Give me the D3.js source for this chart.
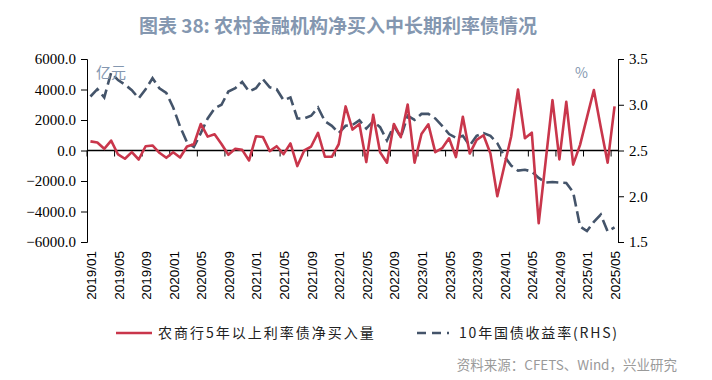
<!DOCTYPE html>
<html>
<head>
<meta charset="utf-8">
<script src="https://cdn.jsdelivr.net/npm/d3@7"></script>
<style>
  body { margin: 0; background: #fff; }
  svg { display: block; }
</style>
</head>
<body>
<svg id="chart"></svg>
<script>
// monthly categories 2019/01 .. 2025/05
var months = [];
for (var y = 2019; y <= 2025; y++) {
  for (var m = 1; m <= 12; m++) {
    if (y === 2025 && m > 5) break;
    months.push(y + "/" + (m < 10 ? "0" + m : m));
  }
}

var tickLabels = ["2019/01","2019/05","2019/09","2020/01","2020/05","2020/09","2021/01","2021/05","2021/09",
  "2022/01","2022/05","2022/09","2023/01","2023/05","2023/09","2024/01","2024/05","2024/09","2025/01","2025/05"];

// 农商行5年以上利率债净买入量 (亿元)
var netBuy = [600, 520, 110, 650, -260, -540, -110, -590, 280, 330,
  -150, -480, -110, -460, 260, 410, 1740, 910, 1060, 430,
  -280, 110, 40, -650, 930, 890, -40, 280, -240, 460,
  -1020, 0, 260, 1150, -410, -410, 410, 2890, 1370, 1740,
  -760, 2340, -110, -800, 1740, 870, 3020, -800, 1085, 1715,
  -110, 150, 800, -430, 2210, -200, 700, 1000, -200, -3000,
  -1050, 900, 4000, 800, 1170, -4770, -750, 3300, -580, 3190,
  -930, 370, 2170, 3970, 1520, -800, 2890];

// 10年国债收益率 (%)
var yield10 = [3.09, 3.17, 3.08, 3.35, 3.27, 3.22, 3.16, 3.07, 3.17, 3.29,
  3.18, 3.13, 2.97, 2.76, 2.59, 2.54, 2.69, 2.85, 2.96, 3.0,
  3.145, 3.18, 3.25, 3.145, 3.18, 3.28, 3.19, 3.17, 3.05, 3.08,
  2.85, 2.85, 2.88, 2.97, 2.82, 2.77, 2.69, 2.77, 2.78, 2.83,
  2.74, 2.82, 2.755, 2.61, 2.77, 2.645, 2.88, 2.835, 2.9, 2.9,
  2.85, 2.77, 2.68, 2.64, 2.66, 2.555, 2.66, 2.69, 2.66, 2.58,
  2.44, 2.335, 2.28, 2.29, 2.27, 2.20, 2.15, 2.155, 2.15, 2.145,
  2.045, 1.67, 1.62, 1.72, 1.80, 1.615, 1.66];

var leftTicks = [-6000, -4000, -2000, 0, 2000, 4000, 6000];
var rightTicks = [1.5, 2.0, 2.5, 3.0, 3.5];

var W = 712, H = 380;
var red = "#C9364B", blue = "#44546A";

var svg = d3.select("#chart").attr("width", W).attr("height", H);
svg.append("rect").attr("width", W).attr("height", H).attr("fill", "#fff");

var x = d3.scaleBand().domain(months).range([87, 618]).padding(0);
var yL = d3.scaleLinear().domain([-6000, 6000]).range([242, 59]);
var yR = d3.scaleLinear().domain([1.5, 3.5]).range([242, 59]);
var cx = function(i) { return x(months[i]) + x.bandwidth() / 2; };

// title
svg.append("text")
  .attr("x", 338).attr("y", 33)
  .attr("text-anchor", "middle")
  .attr("font-family", "'Noto Sans CJK SC', 'Noto Sans', sans-serif")
  .attr("font-weight", "bold")
  .attr("font-size", 19)
  .attr("fill", "#8497B0")
  .text("图表 38: 农村金融机构净买入中长期利率债情况");

// left axis
var axL = svg.append("g").attr("transform", "translate(87,0)")
  .call(d3.axisLeft(yL).tickValues(leftTicks).tickSize(6).tickFormat(d3.format(".1f")));
axL.select(".domain").attr("stroke", "#000");
axL.selectAll("text").attr("font-family", "'Liberation Serif', serif").attr("font-size", 15).attr("fill", "#000").attr("dx", -2);

// right axis
var axR = svg.append("g").attr("transform", "translate(618,0)")
  .call(d3.axisRight(yR).tickValues(rightTicks).tickSize(6).tickFormat(d3.format(".1f")));
axR.select(".domain").attr("stroke", "#000");
axR.selectAll("text").attr("font-family", "'Liberation Serif', serif").attr("font-size", 15).attr("fill", "#000").attr("dx", 2);

// x axis on zero line
var zero = yL(0);
svg.append("line").attr("x1", 87).attr("x2", 618).attr("y1", zero).attr("y2", zero)
  .attr("stroke", "#000").attr("stroke-width", 1.3);
svg.selectAll(".xtick").data(tickLabels).enter().append("line")
  .attr("x1", function(d) { return x(d); }).attr("x2", function(d) { return x(d); })
  .attr("y1", zero).attr("y2", zero + 6)
  .attr("stroke", "#000");

svg.selectAll(".xlab").data(tickLabels).enter().append("text")
  .attr("transform", function(d) { return "translate(" + (x(d) + x.bandwidth() / 2 + 1) + ",251) rotate(-90)"; })
  .attr("text-anchor", "end")
  .attr("dominant-baseline", "central")
  .attr("font-family", "'Liberation Sans', Arial, sans-serif")
  .attr("font-size", 13.5)
  .attr("fill", "#000")
  .text(function(d) { return d; });

// lines
var lineL = d3.line().x(function(d, i) { return cx(i); }).y(function(d) { return yL(d); });
var lineR = d3.line().x(function(d, i) { return cx(i); }).y(function(d) { return yR(d); });

svg.append("path").datum(yield10)
  .attr("d", lineR)
  .attr("fill", "none")
  .attr("stroke", blue)
  .attr("stroke-width", 2.6)
  .attr("stroke-dasharray", "12,5");

svg.append("path").datum(netBuy)
  .attr("d", lineL)
  .attr("fill", "none")
  .attr("stroke", red)
  .attr("stroke-width", 2.6)
  .attr("stroke-linejoin", "round");

// unit labels
svg.append("text").attr("x", 96).attr("y", 78)
  .attr("font-family", "'Noto Sans CJK SC', sans-serif").attr("font-size", 15)
  .attr("fill", "#8497B0").text("亿元");
svg.append("text").attr("x", 575).attr("y", 78)
  .attr("font-family", "'Noto Sans CJK SC', sans-serif").attr("font-size", 14)
  .attr("fill", "#8497B0").text("%");

// legend
var leg = svg.append("g").attr("font-family", "'Noto Sans CJK SC', sans-serif").attr("font-size", 14).attr("fill", "#222");
leg.append("line").attr("x1", 116).attr("x2", 152).attr("y1", 333).attr("y2", 333)
  .attr("stroke", red).attr("stroke-width", 2.6);
leg.append("text").attr("x", 158).attr("y", 338).attr("letter-spacing", 2.0)
  .text("农商行5年以上利率债净买入量");
leg.append("line").attr("x1", 417).attr("x2", 449).attr("y1", 333).attr("y2", 333)
  .attr("stroke", blue).attr("stroke-width", 2.6).attr("stroke-dasharray", "9,6");
leg.append("text").attr("x", 459).attr("y", 338).attr("letter-spacing", 1.8)
  .text("10年国债收益率(RHS)");

// source
svg.append("text").attr("x", 677).attr("y", 370)
  .attr("text-anchor", "end")
  .attr("font-family", "'Noto Sans CJK SC', sans-serif").attr("font-size", 13.5)
  .attr("fill", "#9a9a9a")
  .text("资料来源：CFETS、Wind，兴业研究");
</script>
</body>
</html>
